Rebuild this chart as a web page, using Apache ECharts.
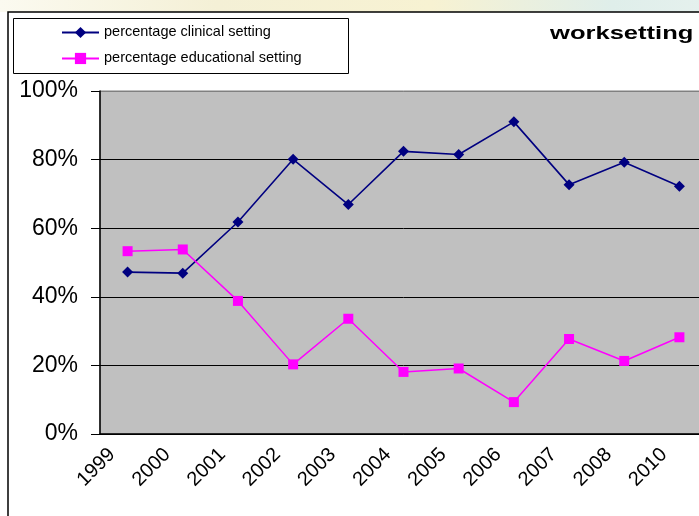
<html>
  <head>
    <title>worksetting</title>
    <script src="https://cdn.jsdelivr.net/npm/echarts@6/dist/echarts.min.js"></script>
    <style>
      body { margin: 0; overflow: hidden; background: #ffffff; }
      #chart { width: 720px; height: 516px; }
    </style>
  </head>
  <body>
    <div id="chart"></div>
    <script>
      // category labels (2009 is not labelled in the original)
      var years = ['1999', '2000', '2001', '2002', '2003', '2004', '2005', '2006', '2007', '2008', '2010']
      // shares
      var clinical = [0.472, 0.469, 0.618, 0.801, 0.669, 0.824, 0.815, 0.910, 0.727, 0.792, 0.722]
      var educational = [0.533, 0.538, 0.388, 0.203, 0.336, 0.181, 0.191, 0.093, 0.277, 0.213, 0.282]
      var yTicks = [0, 0.2, 0.4, 0.6, 0.8, 1]

      var font = 'Liberation Sans, Arial, sans-serif'
      var chart = echarts.init(document.getElementById('chart'))

      chart.setOption({
        animation: false,
        backgroundColor: '#ffffff',
        graphic: [
          // faint backdrop strip above the frame
          {
            type: 'rect',
            shape: { x: 0, y: 0, width: 720, height: 12 },
            style: {
              fill: new echarts.graphic.LinearGradient(0, 0, 1, 0, [
                { offset: 0, color: '#fbfaf0' },
                { offset: 0.3, color: '#f4f0d6' },
                { offset: 0.6, color: '#f7f2d2' },
                { offset: 0.85, color: '#dfeeea' },
                { offset: 1, color: '#e6f1ee' }
              ])
            },
            silent: true,
            z: -10
          },
          // chart frame
          {
            type: 'rect',
            shape: { x: 8, y: 12, width: 740, height: 540 },
            style: { fill: 'none', stroke: '#000000', lineWidth: 1.5 },
            silent: true
          },
          // legend box
          {
            type: 'rect',
            shape: { x: 13.5, y: 18.5, width: 335, height: 55 },
            style: { fill: '#ffffff', stroke: '#000000', lineWidth: 1 },
            silent: true,
            z: -1
          },
          // title, stretched like the original
          {
            type: 'text',
            x: 550,
            y: 34,
            scaleX: 1.42,
            style: {
              text: 'worksetting',
              fontFamily: font,
              fontSize: 18,
              fontWeight: 'bold',
              fill: '#000000',
              verticalAlign: 'middle'
            },
            silent: true
          }
        ],
        legend: {
          orient: 'vertical',
          left: 56,
          top: 15,
          itemWidth: 37,
          itemHeight: 14,
          itemGap: 1,
          textStyle: { fontFamily: font, fontSize: 14.5, color: '#000000' },
          data: ['percentage clinical setting', 'percentage educational setting']
        },
        grid: {
          left: 100,
          right: 13,
          top: 91,
          bottom: 82,
          show: true,
          backgroundColor: '#c0c0c0',
          borderColor: '#808080',
          borderWidth: 1
        },
        xAxis: {
          type: 'category',
          data: years,
          boundaryGap: true,
          axisLine: { lineStyle: { color: '#000000', width: 1.5 } },
          axisTick: { length: 6, lineStyle: { color: '#000000' } },
          axisLabel: {
            rotate: 45,
            interval: 0,
            margin: 2,
            padding: [0, 22, 0, 0],
            fontFamily: font,
            fontSize: 20,
            color: '#000000'
          }
        },
        yAxis: {
          type: 'value',
          min: yTicks[0],
          max: yTicks[yTicks.length - 1],
          interval: 0.2,
          axisLine: { show: true, lineStyle: { color: '#000000', width: 1.5 } },
          axisTick: { show: true, length: 9, lineStyle: { color: '#000000' } },
          axisLabel: {
            margin: 22,
            fontFamily: font,
            fontSize: 23,
            color: '#000000',
            formatter: function (v) { return Math.round(v * 100) + '%' }
          },
          splitLine: {
            lineStyle: {
              color: ['#000000', '#000000', '#000000', '#000000', '#000000', '#808080'],
              width: 1
            }
          }
        },
        series: [
          {
            name: 'percentage clinical setting',
            type: 'line',
            data: clinical,
            symbol: 'diamond',
            symbolSize: 11,
            color: '#000080',
            lineStyle: { color: '#000080', width: 1.6 },
            itemStyle: { color: '#000080' }
          },
          {
            name: 'percentage educational setting',
            type: 'line',
            data: educational,
            symbol: 'rect',
            symbolSize: 10,
            color: '#ff00ff',
            lineStyle: { color: '#ff00ff', width: 1.5 },
            itemStyle: { color: '#ff00ff' }
          }
        ]
      })
    </script>
  </body>
</html>
